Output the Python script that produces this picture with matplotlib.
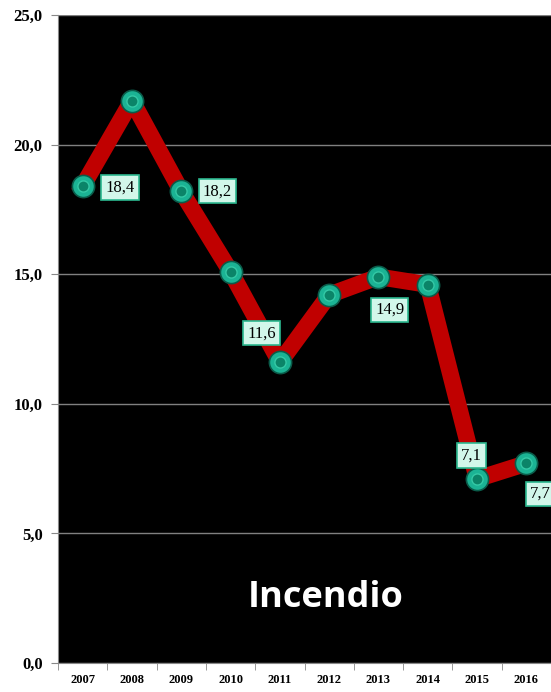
import matplotlib.pyplot as plt
import numpy as np

# datos
years = ['2007', '2008', '2009', '2010', '2011', '2012', '2013', '2014', '2015', '2016']
values = [18.4, 21.7, 18.2, 15.1, 11.6, 14.2, 14.9, 14.6, 7.1, 7.7]
labeled = {0: '18,4', 2: '18,2', 4: '11,6', 6: '14,9', 8: '7,1', 9: '7,7'}
# desplazamiento de cada etiqueta (puntos)
offsets = {0: (27, -1), 2: (26, 0), 4: (-13, 21), 6: (8, -24), 8: (-4, 17), 9: (10, -22)}

fig = plt.figure(figsize=(5.51, 6.92), dpi=100)
ax = fig.add_axes([58/551, 29/692, 493/551, 648/692])
ax.set_facecolor('black')

x = np.arange(len(years))
ax.plot(x, values, color='#c00000', lw=12, solid_joinstyle='round', zorder=3)
ax.plot(x, values, 'o', ms=16, color='#1bb394', mec='#0a5c4a', mew=1.2, zorder=4)
ax.plot(x, values, 'o', ms=8, color='#0b8468', mec='#34c9a6', mew=1, zorder=5)

for i, txt in labeled.items():
    ax.annotate(txt, (x[i], values[i]), xytext=offsets[i], textcoords='offset points',
                ha='center', va='center', fontsize=12, family='Liberation Serif',
                bbox=dict(boxstyle='square,pad=0.25', fc='#d2f7ea', ec='#2cb88f', lw=1.2),
                zorder=6)

ax.text(0.542, 0.1, 'Incendio', transform=ax.transAxes, color='white', fontsize=26,
        fontweight='bold', family='Open Sans', ha='center', va='center')

ax.set_xlim(-0.5, len(years) - 0.5)
ax.set_ylim(0, 25)
ax.set_yticks([0, 5, 10, 15, 20, 25])
ax.set_yticklabels(['0,0', '5,0', '10,0', '15,0', '20,0', '25,0'],
                   family='Liberation Serif', fontweight='bold', fontsize=12)
ax.set_xticks(x)
ax.set_xticklabels(years, family='Liberation Serif', fontweight='bold', fontsize=9)
ax.set_xticks(np.arange(-0.5, len(years)), minor=True)
ax.tick_params(axis='x', which='major', length=0, pad=8)
ax.tick_params(axis='x', which='minor', length=5, color='#888888')
ax.tick_params(axis='y', length=5, color='#888888', pad=6)
ax.yaxis.grid(True, color='#808080', lw=1)
ax.set_axisbelow(True)
for s in ['top', 'right']:
    ax.spines[s].set_visible(False)
for s in ['left', 'bottom']:
    ax.spines[s].set_color('#888888')

fig.savefig('out.png', dpi=100)
